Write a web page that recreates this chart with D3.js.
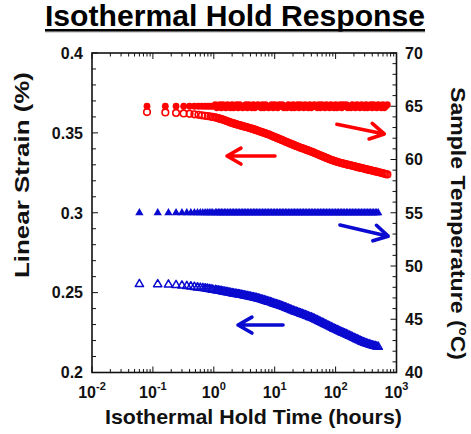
<!DOCTYPE html>
<html><head><meta charset="utf-8">
<script src="https://cdn.jsdelivr.net/npm/d3@7"></script>
<style>body{margin:0;background:#fff}svg{display:block}</style>
</head><body>
<script>
// ---------------- DATA ----------------
const redTime = [0.08,0.16,0.24,0.32,0.40,0.48,0.56,0.64,0.72,0.80,0.88,0.96,
  1.06,1.12,1.19,1.26,1.33,1.41,1.50,1.58,1.68,1.78,1.88,2.00,2.11,2.24,2.37,2.51,2.66,2.82,2.99,3.16,3.35,3.55,3.76,3.98,4.22,4.47,4.73,5.01,5.31,5.62,5.96,6.31,6.68,7.08,7.50,7.94,8.41,8.91,9.44,10,
  10.6,11.2,11.9,12.6,13.3,14.1,15.0,15.8,16.8,17.8,18.8,20.0,21.1,22.4,23.7,25.1,26.6,28.2,29.9,31.6,33.5,35.5,37.6,39.8,42.2,44.7,47.3,50.1,53.1,56.2,59.6,63.1,66.8,70.8,75.0,79.4,84.1,89.1,94.4,100,
  106,112,119,126,133,141,150,158,168,178,188,200,211,224,237,251,266,282,299,316,335,355,376,398,422,447,473,501,531,562,596,631,668,708];
const redStrain = [0.3630,0.3628,0.3625,0.3622,0.3619,0.3616,0.3613,0.3610,0.3607,0.3605,0.3602,0.3600,
  0.3597,0.3594,0.3591,0.3589,0.3586,0.3583,0.3580,0.3576,0.3572,0.3569,0.3565,0.3562,0.3559,0.3556,0.3553,0.3551,0.3548,0.3545,0.3542,0.3540,
  0.3537,0.3535,0.3532,0.3529,0.3526,0.3523,0.3520,0.3517,0.3513,0.3510,0.3507,0.3504,0.3500,0.3497,0.3493,0.3490,0.3486,0.3482,0.3478,0.3474,
  0.3470,0.3466,0.3462,0.3458,0.3454,0.3450,0.3446,0.3442,0.3438,0.3434,0.3430,0.3426,0.3422,0.3418,0.3414,0.3411,0.3407,0.3404,0.3400,0.3397,
  0.3393,0.3390,0.3386,0.3383,0.3379,0.3375,0.3371,0.3367,0.3363,0.3359,0.3355,0.3351,0.3347,0.3343,0.3339,0.3335,0.3331,0.3328,0.3325,0.3322,
  0.3319,0.3316,0.3313,0.3311,0.3308,0.3306,0.3303,0.3301,0.3299,0.3297,0.3294,0.3292,0.3289,0.3287,0.3284,0.3282,0.3280,0.3278,0.3275,0.3273,
  0.3270,0.3268,0.3266,0.3264,0.3261,0.3259,0.3257,0.3255,0.3252,0.3250,0.3247,0.3245,0.3242,0.3240];
const redTemp = [65.0,65.0,65.0,65.0,65.0,65.0,65.0,65.0,65.0,65.0,65.0,65.0,
  65.15,64.85,65.0,65.15,64.85,65.15,65.0,64.85,65.15,65.0,64.85,65.15,64.85,65.0,65.15,64.85,65.15,65.0,64.85,
  65.0,65.15,64.85,65.15,65.0,64.85,65.15,64.85,65.0,65.15,65.0,64.85,65.15,64.85,65.15,65.0,64.85,65.0,65.15,
  64.85,65.15,65.0,64.85,65.15,65.0,65.15,64.85,65.0,64.85,65.15,65.0,64.85,65.15,64.85,65.0,65.15,64.85,65.15,
  65.0,64.85,65.15,65.0,64.85,65.15,64.85,65.0,65.15,65.0,64.85,65.15,64.85,65.15,65.0,64.85,65.15,65.0,64.85,
  65.15,65.0,64.85,65.15,64.85,65.0,65.15,64.85,65.15,65.0,65.15,64.85,65.0,64.85,65.15,65.0,64.85,65.15,65.0,
  64.85,65.15,65.0,64.85,65.15,64.85,65.0,65.15,64.85,65.15,65.0,64.85,65.15,65.0,64.85,65.15,64.85,65.0,65.15];
const blueTime = [0.06,0.12,0.18,0.24,0.30,0.36,0.42,0.48,0.54,0.60,0.66,0.72,0.78,0.84,0.90,0.96,
  1.06,1.12,1.19,1.26,1.33,1.41,1.50,1.58,1.68,1.78,1.88,2.00,2.11,2.24,2.37,2.51,2.66,2.82,2.99,3.16,3.35,3.55,3.76,3.98,4.22,4.47,4.73,5.01,5.31,5.62,5.96,6.31,6.68,7.08,7.50,7.94,8.41,8.91,9.44,10,
  10.6,11.2,11.9,12.6,13.3,14.1,15.0,15.8,16.8,17.8,18.8,20.0,21.1,22.4,23.7,25.1,26.6,28.2,29.9,31.6,33.5,35.5,37.6,39.8,42.2,44.7,47.3,50.1,53.1,56.2,59.6,63.1,66.8,70.8,75.0,79.4,84.1,89.1,94.4,100,
  106,112,119,126,133,141,150,158,168,178,188,200,211,224,237,251,266,282,299,316,335,355,376,398,422,447,473,501];
const blueStrain = [0.2553,0.2552,0.2550,0.2547,0.2544,0.2541,0.2538,0.2535,0.2532,0.2530,0.2528,0.2526,0.2524,0.2522,0.2520,0.2518,
  0.2516,0.2514,0.2512,0.2511,0.2509,0.2507,0.2505,0.2504,0.2502,0.2500,0.2498,0.2496,0.2494,0.2493,0.2491,0.2490,0.2488,0.2486,0.2484,0.2482,
  0.2480,0.2478,0.2476,0.2474,0.2472,0.2470,0.2468,0.2466,0.2463,0.2461,0.2458,0.2455,0.2452,0.2449,0.2446,0.2443,0.2440,0.2437,0.2433,0.2430,
  0.2427,0.2424,0.2421,0.2418,0.2414,0.2411,0.2407,0.2403,0.2399,0.2395,0.2391,0.2387,0.2383,0.2380,0.2376,0.2373,0.2369,0.2366,0.2362,0.2359,
  0.2355,0.2351,0.2347,0.2344,0.2340,0.2336,0.2331,0.2327,0.2322,0.2317,0.2312,0.2308,0.2303,0.2298,0.2293,0.2289,0.2284,0.2279,0.2274,0.2270,
  0.2265,0.2261,0.2256,0.2252,0.2248,0.2244,0.2239,0.2235,0.2230,0.2226,0.2221,0.2217,0.2212,0.2208,0.2203,0.2199,0.2194,0.2190,0.2186,0.2182,
  0.2179,0.2176,0.2173,0.2170,0.2167,0.2165,0.2162,0.2160];
const blueTemp = [55.0,55.0,55.0,55.0,55.0,55.0,55.0,55.0,55.0,55.0,55.0,55.0,55.0,55.0,55.0,55.0,
  55.0,55.0,55.0,55.0,55.0,55.0,55.0,55.0,55.0,55.0,55.0,55.0,55.0,55.0,55.0,55.0,55.0,55.0,55.0,55.0,
  55.0,55.0,55.0,55.0,55.0,55.0,55.0,55.0,55.0,55.0,55.0,55.0,55.0,55.0,55.0,55.0,55.0,55.0,55.0,55.0,
  55.0,55.0,55.0,55.0,55.0,55.0,55.0,55.0,55.0,55.0,55.0,55.0,55.0,55.0,55.0,55.0,55.0,55.0,55.0,55.0,
  55.0,55.0,55.0,55.0,55.0,55.0,55.0,55.0,55.0,55.0,55.0,55.0,55.0,55.0,55.0,55.0,55.0,55.0,55.0,55.0,
  55.0,55.0,55.0,55.0,55.0,55.0,55.0,55.0,55.0,55.0,55.0,55.0,55.0,55.0,55.0,55.0,55.0,55.0,55.0,55.0,
  55.0,55.0,55.0,55.0,55.0,55.0,55.0,55.0];

const xTickExps = [-2,-1,0,1,2,3];
const strainTicks = [0.2,0.25,0.3,0.35,0.4];
const tempTicks = [40,45,50,55,60,65,70];

// annotation arrows: tail point, head point (time, value), axis, colour
const arrowFrom = [[10.1,0.3355],[105,63.3],[118,53.85],[13.7,0.2297]];
const arrowTo   = [[1.65,0.3355],[630,62.4],[730,52.8],[2.5,0.2297]];
const arrowAxis = ["strain","temp","temp","strain"];
const arrowColor = ["red","red","blue","blue"];

const RED = "#ff0000", BLUE = "#0a0ad0";
const FONT = "'Liberation Sans', Arial, Helvetica, sans-serif";

// ---------------- CHART ----------------
const W = 471, H = 434;
const L = 92, R = 396.5, T = 53, B = 372.5;
const svg = d3.select("body").append("svg").attr("width", W).attr("height", H)
  .style("font-family", FONT);

const x = d3.scaleLog().domain([0.01, 1000]).range([L, R]);
const yS = d3.scaleLinear().domain([0.2, 0.4]).range([B, T]);
const yT = d3.scaleLinear().domain([40, 70]).range([B, T]);

// Title
svg.append("text").attr("x", 235).attr("y", 26).attr("text-anchor", "middle")
  .attr("font-size", 30).attr("font-weight", "bold").attr("textLength", 380)
  .attr("lengthAdjust", "spacingAndGlyphs").text("Isothermal Hold Response");
svg.append("line").attr("x1", 45).attr("x2", 425).attr("y1", 32).attr("y2", 32)
  .attr("stroke", "#aaa").attr("stroke-width", 1.2);
svg.append("line").attr("x1", 45).attr("x2", 425).attr("y1", 30.3).attr("y2", 30.3)
  .attr("stroke", "#000").attr("stroke-width", 2.4);

// Data marks
const g = svg.append("g");
const redPts = redTime.map((t, i) => ({t, s: redStrain[i], T: redTemp[i]}));
const bluePts = blueTime.map((t, i) => ({t, s: blueStrain[i], T: blueTemp[i]}));

g.append("g").selectAll("circle").data(redPts).join("circle")
  .attr("cx", d => x(d.t)).attr("cy", d => yS(d.s)).attr("r", 3.3)
  .attr("fill", "none").attr("stroke", RED).attr("stroke-width", 1.6);
g.append("g").selectAll("circle").data(redPts).join("circle")
  .attr("cx", d => x(d.t)).attr("cy", d => yT(d.T)).attr("r", 3.4)
  .attr("fill", RED);

const triOpen = d3.symbol().type(d3.symbolTriangle).size(30);
const triFill = d3.symbol().type(d3.symbolTriangle).size(30);
g.append("g").selectAll("path").data(bluePts).join("path")
  .attr("d", triOpen).attr("transform", d => `translate(${x(d.t)},${yS(d.s)})`)
  .attr("fill", "none").attr("stroke", BLUE).attr("stroke-width", 1.5)
  .attr("stroke-linejoin", "round");
g.append("g").selectAll("path").data(bluePts).join("path")
  .attr("d", triFill).attr("transform", d => `translate(${x(d.t)},${yT(d.T)})`)
  .attr("fill", BLUE);

// Arrows
arrowFrom.forEach((f, i) => {
  const ys = arrowAxis[i] === "strain" ? yS : yT;
  const col = arrowColor[i] === "red" ? RED : BLUE;
  const x0 = x(f[0]), y0 = ys(f[1]);
  const x1 = x(arrowTo[i][0]), y1 = ys(arrowTo[i][1]);
  const ang = Math.atan2(y1 - y0, x1 - x0);
  const len = 16, spread = 0.52;
  const a1 = [x1 - len * Math.cos(ang - spread), y1 - len * Math.sin(ang - spread)];
  const a2 = [x1 - len * Math.cos(ang + spread), y1 - len * Math.sin(ang + spread)];
  svg.append("path")
    .attr("d", `M${x0},${y0}L${x1},${y1}M${a1[0]},${a1[1]}L${x1},${y1}L${a2[0]},${a2[1]}`)
    .attr("fill", "none").attr("stroke", col).attr("stroke-width", 3.6)
    .attr("stroke-linecap", "round").attr("stroke-linejoin", "round");
});

// Frame
svg.append("rect").attr("x", L).attr("y", T).attr("width", R - L).attr("height", B - T)
  .attr("fill", "none").attr("stroke", "#111").attr("stroke-width", 1.6);

// X ticks (bottom & top, inward)
const ax = svg.append("g").attr("stroke", "#111").attr("stroke-width", 1);
xTickExps.forEach(e => {
  const v = Math.pow(10, e);
  ax.append("line").attr("x1", x(v)).attr("x2", x(v)).attr("y1", B).attr("y2", B - 6);
  ax.append("line").attr("x1", x(v)).attr("x2", x(v)).attr("y1", T).attr("y2", T + 6);
  if (e < 3) for (let k = 2; k <= 9; k++) {
    const m = k * v;
    ax.append("line").attr("x1", x(m)).attr("x2", x(m)).attr("y1", B).attr("y2", B - 3.5);
    ax.append("line").attr("x1", x(m)).attr("x2", x(m)).attr("y1", T).attr("y2", T + 3.5);
  }
});
// Left ticks (strain)
d3.range(0, 21).forEach(i => {
  const v = 0.2 + i * 0.01;
  const major = i % 5 === 0;
  ax.append("line").attr("x1", L).attr("x2", L + (major ? 6 : 4)).attr("y1", yS(v)).attr("y2", yS(v));
});
// Right ticks (temperature)
d3.range(40, 71).forEach(v => {
  const major = v % 5 === 0;
  ax.append("line").attr("x1", R).attr("x2", R - (major ? 6 : 4)).attr("y1", yT(v)).attr("y2", yT(v));
});

// Tick labels
const lab = svg.append("g").attr("font-size", 16).attr("font-weight", "bold").attr("fill", "#111");
strainTicks.forEach(v => {
  lab.append("text").attr("x", 83).attr("y", yS(v)).attr("dy", "0.36em")
    .attr("text-anchor", "end").text(String(v));
});
tempTicks.forEach(v => {
  lab.append("text").attr("x", 405).attr("y", yT(v)).attr("dy", "0.36em")
    .attr("text-anchor", "start").text(String(v));
});
xTickExps.forEach(e => {
  const t = lab.append("text").attr("x", x(Math.pow(10, e))).attr("y", 398)
    .attr("text-anchor", "middle");
  t.append("tspan").text("10");
  t.append("tspan").attr("dy", -8).attr("font-size", 11).text(String(e));
});

// Axis titles
svg.append("text").attr("x", 253.5).attr("y", 424).attr("text-anchor", "middle")
  .attr("font-size", 21).attr("font-weight", "bold").attr("fill", "#111")
  .attr("textLength", 297).attr("lengthAdjust", "spacingAndGlyphs")
  .text("Isothermal Hold Time (hours)");
svg.append("text").attr("transform", "translate(29,175) rotate(-90)")
  .attr("text-anchor", "middle").attr("font-size", 21).attr("font-weight", "bold").attr("fill", "#111")
  .attr("textLength", 206).attr("lengthAdjust", "spacingAndGlyphs")
  .text("Linear Strain (%)");
const rt = svg.append("text").attr("transform", "translate(451,223.5) rotate(90)")
  .attr("text-anchor", "middle").attr("font-size", 21).attr("font-weight", "bold").attr("fill", "#111")
  .attr("textLength", 273).attr("lengthAdjust", "spacingAndGlyphs");
rt.append("tspan").text("Sample Temperature (");
rt.append("tspan").attr("font-size", 12).attr("dy", -8).text("o");
rt.append("tspan").attr("dy", 8).text("C)");
</script>
</body></html>
